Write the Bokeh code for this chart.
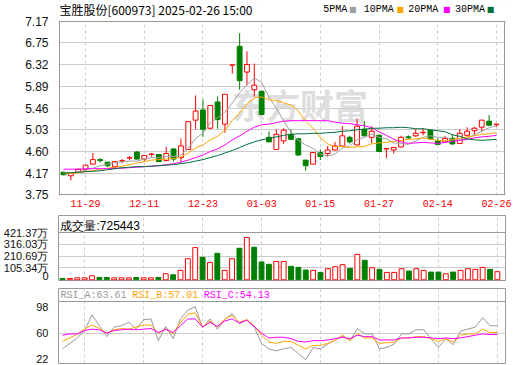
from bokeh.plotting import figure
from bokeh.models import (Range1d, FixedTicker, PrintfTickFormatter, CustomJSTickFormatter,
                          Label, Span, BoxAnnotation)
from bokeh.layouts import column
from bokeh.embed import file_html
from bokeh.resources import INLINE

# ---------------- data ----------------
dates = ["11-26", "11-27", "11-28", "11-29",
         "12-02", "12-03", "12-04", "12-05", "12-06", "12-09", "12-10", "12-11", "12-12", "12-13",
         "12-16", "12-17", "12-18", "12-19", "12-20", "12-23", "12-24", "12-25", "12-26", "12-27",
         "12-30", "12-31", "01-02", "01-03", "01-06", "01-07", "01-08", "01-09", "01-10", "01-13",
         "01-14", "01-15", "01-16", "01-17", "01-20", "01-21", "01-22", "01-23", "01-24", "01-27",
         "02-05", "02-06", "02-07", "02-10", "02-11", "02-12", "02-13", "02-14", "02-17", "02-18",
         "02-19", "02-20", "02-21", "02-24", "02-25", "02-26"]

opens = [4.19, 4.12, 4.19, 4.24, 4.35, 4.44, 4.39, 4.30, 4.41, 4.47,
         4.59, 4.45, 4.54, 4.54, 4.42, 4.65, 4.48, 4.64, 5.22, 5.42,
         5.06, 5.58, 5.14, 6.31, 6.68, 6.17, 5.82, 5.79, 4.88, 4.64,
         4.81, 4.94, 4.85, 4.43, 4.35, 4.58, 4.56, 4.63, 4.71, 4.88,
         4.73, 5.04, 4.88, 4.92, 4.65, 4.63, 4.69, 4.89, 4.91, 4.97,
         5.02, 4.81, 4.79, 4.86, 4.76, 4.92, 5.01, 5.08, 5.20, 5.13]
highs = [4.20, 4.18, 4.26, 4.33, 4.57, 4.47, 4.39, 4.40, 4.45, 4.51,
         4.61, 4.53, 4.57, 4.55, 4.69, 4.67, 4.86, 5.19, 5.71, 5.63,
         5.51, 5.69, 5.73, 6.31, 6.94, 6.58, 6.34, 5.81, 5.00, 5.04,
         5.06, 5.04, 4.87, 4.43, 4.59, 4.64, 4.71, 4.79, 5.10, 4.91,
         5.25, 5.20, 5.10, 4.93, 4.66, 4.68, 4.91, 4.92, 5.04, 5.06,
         5.03, 4.86, 4.91, 4.94, 5.04, 5.08, 5.09, 5.22, 5.32, 5.15]
lows = [4.13, 4.03, 4.18, 4.23, 4.35, 4.38, 4.29, 4.28, 4.37, 4.43,
        4.44, 4.41, 4.50, 4.40, 4.41, 4.40, 4.38, 4.63, 5.04, 4.89,
        5.05, 5.05, 4.97, 6.14, 5.82, 5.91, 5.69, 5.32, 4.79, 4.64,
        4.75, 4.83, 4.52, 4.22, 4.35, 4.43, 4.50, 4.62, 4.70, 4.76,
        4.72, 4.90, 4.76, 4.59, 4.47, 4.56, 4.68, 4.85, 4.89, 4.92,
        4.84, 4.74, 4.77, 4.73, 4.75, 4.89, 4.92, 4.99, 5.10, 5.09]
closes = [4.14, 4.18, 4.25, 4.33, 4.44, 4.42, 4.32, 4.40, 4.42, 4.48,
          4.45, 4.52, 4.55, 4.40, 4.56, 4.45, 4.71, 5.19, 5.40, 5.04,
          5.51, 5.23, 5.73, 6.31, 6.00, 6.32, 5.91, 5.33, 4.79, 4.94,
          5.02, 4.84, 4.53, 4.32, 4.58, 4.50, 4.63, 4.71, 4.91, 4.79,
          5.10, 4.91, 5.00, 4.60, 4.66, 4.68, 4.88, 4.87, 4.96, 4.98,
          4.85, 4.74, 4.86, 4.75, 4.96, 5.00, 5.06, 5.22, 5.12, 5.14]

ma5 = [4.19, 4.18, 4.19, 4.23, 4.27, 4.32, 4.35, 4.38, 4.40, 4.41,
       4.41, 4.45, 4.48, 4.48, 4.50, 4.50, 4.53, 4.66, 4.86, 4.96,
       5.17, 5.27, 5.38, 5.56, 5.76, 5.92, 6.05, 5.97, 5.67, 5.46,
       5.20, 4.98, 4.82, 4.73, 4.66, 4.55, 4.51, 4.55, 4.67, 4.71,
       4.83, 4.88, 4.94, 4.88, 4.85, 4.77, 4.76, 4.74, 4.81, 4.88,
       4.91, 4.88, 4.88, 4.84, 4.83, 4.86, 4.93, 5.00, 5.07, 5.11]
ma10 = [4.16, 4.17, 4.18, 4.20, 4.22, 4.25, 4.27, 4.29, 4.31, 4.34,
        4.37, 4.40, 4.43, 4.44, 4.45, 4.46, 4.49, 4.57, 4.67, 4.73,
        4.83, 4.90, 5.02, 5.21, 5.36, 5.54, 5.66, 5.68, 5.62, 5.61,
        5.56, 5.52, 5.40, 5.20, 5.06, 4.88, 4.75, 4.69, 4.70, 4.68,
        4.69, 4.70, 4.75, 4.77, 4.78, 4.80, 4.82, 4.84, 4.85, 4.87,
        4.84, 4.82, 4.81, 4.83, 4.86, 4.89, 4.91, 4.94, 4.95, 4.97]
ma20 = [4.25, 4.25, 4.25, 4.26, 4.26, 4.26, 4.26, 4.27, 4.27, 4.28,
        4.29, 4.30, 4.31, 4.32, 4.34, 4.36, 4.39, 4.43, 4.48, 4.53,
        4.60, 4.65, 4.73, 4.83, 4.91, 5.00, 5.08, 5.13, 5.14, 5.17,
        5.20, 5.21, 5.21, 5.21, 5.21, 5.21, 5.21, 5.18, 5.16, 5.15,
        5.13, 5.11, 5.07, 4.99, 4.92, 4.84, 4.79, 4.76, 4.77, 4.78,
        4.77, 4.76, 4.78, 4.80, 4.82, 4.84, 4.87, 4.89, 4.90, 4.92]
ma30 = [4.17, 4.18, 4.19, 4.20, 4.21, 4.22, 4.24, 4.26, 4.28, 4.29,
        4.30, 4.30, 4.31, 4.32, 4.33, 4.34, 4.36, 4.38, 4.41, 4.44,
        4.48, 4.52, 4.57, 4.62, 4.68, 4.74, 4.79, 4.83, 4.86, 4.89,
        4.92, 4.94, 4.95, 4.95, 4.96, 4.96, 4.97, 4.98, 5.00, 5.01,
        5.03, 5.04, 5.06, 5.06, 5.07, 5.07, 5.08, 5.07, 5.05, 5.05,
        5.03, 5.01, 4.99, 4.93, 4.90, 4.85, 4.83, 4.82, 4.83, 4.84]

# volume in 万 (10k shares)
volume = [12, 12, 18, 18, 36, 21, 21, 18, 18, 18,
          21, 18, 18, 21, 54, 45, 84, 188, 287, 200,
          155, 236, 84, 188, 281, 377, 290, 159, 138, 164,
          164, 120, 111, 87, 84, 66, 99, 117, 135, 102,
          227, 174, 108, 93, 66, 66, 99, 78, 99, 84,
          69, 69, 54, 69, 84, 99, 93, 111, 93, 72.5443]

rsi_a = [37, 45, 53, 64, 87, 71, 55, 69, 71, 76,
         66, 80, 81, 49, 70, 52, 81, 94, 99, 68,
         81, 66, 80, 89, 74, 80, 69, 45, 37, 34,
         37, 39, 30, 21, 39, 37, 44, 50, 56, 49,
         67, 59, 59, 37, 39, 44, 59, 59, 65, 65,
         52, 39, 52, 43, 63, 66, 69, 83, 71, 71]
rsi_b = [48, 53, 59, 66, 72, 67, 60, 65, 67, 66,
         69, 72, 72, 60, 66, 59, 76, 88, 90, 69,
         78, 69, 81, 86, 76, 80, 71, 57, 47, 45,
         48, 48, 42, 37, 42, 42, 45, 50, 57, 49,
         59, 53, 53, 45, 46, 47, 53, 53, 55, 55,
         52, 48, 52, 47, 57, 59, 59, 66, 61, 61]
rsi_c = [57, 59, 59, 64, 66, 65, 60, 64, 65, 66,
         65, 66, 67, 61, 66, 61, 71, 81, 81, 69,
         76, 70, 78, 81, 75, 79, 70, 60, 53, 54,
         54, 52, 48, 47, 49, 49, 50, 52, 54, 52,
         57, 55, 55, 50, 50, 50, 53, 53, 54, 54,
         53, 52, 53, 52, 53, 55, 57, 59, 58, 58]

title_text = "宝胜股份[600973] 2025-02-26 15:00"
ma_names = ["5PMA", "10PMA", "20PMA", "30PMA"]
vol_header = "成交量:725443"
rsi_headers = ["RSI_A:63.61", "RSI_B:57.01", "RSI_C:54.13"]
watermark = "东方财富"
price_ticks = [3.75, 4.17, 4.60, 5.03, 5.46, 5.89, 6.32, 6.75, 7.17]
vol_ticks = [0, 105.34, 210.69, 316.03, 421.37]
rsi_ticks = [22, 60, 98]
date_tick_idx = [3, 11, 19, 27, 35, 43, 51, 59]

# ---------------- styles / layout ----------------
RED = "#ff0000"
GREEN = "#008000"
MA_COLORS = ["#a0a0a0", "#ffa500", "#ff00ff", "#00703c"]
RSI_COLORS = ["#999999", "#ffa500", "#ff00ff"]
GRID = "#cccccc"
BORDER = "#999999"
W = 520
LEFT, RIGHT = 56, 15
FW = W - LEFT - RIGHT
X0, X1 = -0.55, 60.1
XPP = (X1 - X0) / FW          # data units per pixel along x
xr = Range1d(X0, X1)

N = len(closes)
idx = list(range(N))
up = [c >= o for o, c in zip(opens, closes)]
ccol = [RED if u else GREEN for u in up]
cfill = ["white" if u else GREEN for u in up]
btop = [max(o, c) for o, c in zip(opens, closes)]
bbot = [min(o, c) for o, c in zip(opens, closes)]
vup = [up[0]] + [closes[i] >= closes[i - 1] for i in range(1, N)]
vcol = [RED if u else GREEN for u in vup]
vfill = ["white" if u else GREEN for u in vup]


def fx(px):
    return X0 + (px - LEFT) * XPP


def style_fig(p, left, right, top, bottom):
    p.min_border_left = left
    p.min_border_right = right
    p.min_border_top = top
    p.min_border_bottom = bottom
    p.background_fill_color = "white"
    p.border_fill_color = "white"
    ax = p.yaxis[0]
    ax.axis_line_color = None
    ax.major_tick_line_color = None
    ax.minor_tick_line_color = None
    ax.major_label_standoff = 4
    ax.major_label_text_font = "Liberation Sans"
    ax.major_label_text_font_size = "12px"
    ax.major_label_text_color = "#111111"
    p.xgrid.ticker = FixedTicker(ticks=date_tick_idx)
    p.xgrid.grid_line_color = GRID
    p.xgrid.grid_line_dash = "3 3"
    p.ygrid.grid_line_color = GRID


# ---------------- main price panel (frame also holds the header strip) ----------------
P_LO, P_HI = 3.75, 7.17
PTOP, PBOT = 21, 194                      # page y of the price box
YPP = (P_HI - P_LO) / (PBOT - PTOP)       # price per pixel
H1 = 212
p1_y = Range1d(P_LO - 1 * YPP, P_HI + PTOP * YPP)
p1_x = Range1d(X0 - XPP, X1 + XPP)
p1 = figure(width=W, height=H1, x_range=p1_x, y_range=p1_y, tools="",
            toolbar_location=None, output_backend="svg")
style_fig(p1, LEFT - 1, RIGHT - 1, 0, H1 - (PBOT + 1))
p1.outline_line_color = None


def fy1(py):
    return P_HI - (py - PTOP) * YPP


p1.yaxis.ticker = FixedTicker(ticks=price_ticks)
p1.yaxis.formatter = PrintfTickFormatter(format="%.2f")
p1.ygrid.ticker = FixedTicker(ticks=price_ticks)
xa = p1.xaxis[0]
xa.ticker = FixedTicker(ticks=date_tick_idx)
xa.formatter = CustomJSTickFormatter(args=dict(d=dates), code="return d[tick] || '';")
xa.axis_line_color = None
xa.major_tick_line_color = None
xa.minor_tick_line_color = None
xa.major_tick_out = 0
xa.major_label_standoff = 4
xa.major_label_text_color = RED
xa.major_label_text_font = "Liberation Mono"
xa.major_label_text_font_size = "10px"

p1.add_layout(Label(x=fx(230), y=fy1(104), text=watermark, text_font="Noto Sans CJK SC",
                    text_font_size="34px", text_font_style="bold", text_color="#dedede",
                    text_baseline="middle", level="underlay"))

p1.segment(x0=idx, y0=lows, x1=idx, y1=highs, line_color=ccol, line_width=1)
p1.vbar(x=idx, top=btop, bottom=bbot, width=0.66, fill_color=cfill, line_color=ccol,
        line_width=1)
for ma, col in zip([ma5, ma10, ma20, ma30], MA_COLORS):
    p1.line(idx, ma, line_color=col, line_width=1)

# box border of the price area
for loc in (P_LO, P_HI):
    p1.add_layout(Span(location=loc, dimension="width", line_color=BORDER, line_width=1))
for loc in (X0, X1):
    p1.add_layout(Span(location=loc, dimension="height", line_color=BORDER, line_width=1))
# blank header strip above the box
p1.add_layout(BoxAnnotation(bottom=P_HI + 0.6 * YPP, fill_color="white", fill_alpha=1,
                            line_color=None, level="annotation"))

p1.add_layout(Label(x=fx(56), y=fy1(9), text=title_text, text_font="Noto Sans CJK SC",
                    text_font_size="12px", text_color="#000000", text_baseline="middle"))
leg_text_px = [322, 363, 408, 455]
leg_box_px = [348, 396, 443, 487]
for name, col, tx, bx in zip(ma_names, MA_COLORS, leg_text_px, leg_box_px):
    p1.add_layout(Label(x=fx(tx), y=fy1(9), text=name, text_font="Liberation Mono",
                        text_font_size="10px", text_color="#000000", text_baseline="middle"))
    p1.add_layout(Label(x=fx(bx), y=fy1(9), text="■", text_font="DejaVu Sans",
                        text_font_size="8px", text_color=col, text_baseline="middle"))

# ---------------- volume panel ----------------
H2, T2, B2 = 69, 3, 1
FH2 = H2 - T2 - B2
V_LO = -6.0
V_HI = vol_ticks[-1] + (232 - 215) * (vol_ticks[-1] - V_LO) / (280 - 232)


def fy2(py):
    return V_LO + (280 - py) * (V_HI - V_LO) / FH2


p2 = figure(width=W, height=H2, x_range=xr, y_range=Range1d(V_LO, V_HI), tools="",
            toolbar_location=None, output_backend="svg", x_axis_location=None)
style_fig(p2, LEFT, RIGHT, T2, B2)
p2.outline_line_color = BORDER
p2.yaxis.ticker = FixedTicker(ticks=vol_ticks)
p2.yaxis.formatter = CustomJSTickFormatter(
    code="return tick == 0 ? '0' : tick.toFixed(2) + '万';")
p2.yaxis.major_label_text_font_size = "11px"
p2.ygrid.ticker = FixedTicker(ticks=vol_ticks[1:-1])
p2.add_layout(Span(location=vol_ticks[-1], dimension="width", line_color=BORDER,
                   line_width=1))
p2.vbar(x=idx, top=volume, bottom=0, width=0.66, fill_color=vfill, line_color=vcol,
        line_width=1)
p2.add_layout(Label(x=fx(58), y=fy2(225), text=vol_header, text_font="Liberation Sans",
                    text_font_size="12px", text_color="#000000", text_baseline="middle"))

# ---------------- RSI panel ----------------
H3, T3, B3 = 84, 7, 2
FH3 = H3 - T3 - B3
R_LO = 60 - (363 - 332.7) / 0.679
R_HI = 60 + (332.7 - 288) / 0.679


def fy3(py):
    return R_LO + (363 - py) * (R_HI - R_LO) / FH3


p3 = figure(width=W, height=H3, x_range=xr, y_range=Range1d(R_LO, R_HI), tools="",
            toolbar_location=None, output_backend="svg", x_axis_location=None)
style_fig(p3, LEFT, RIGHT, T3, B3)
p3.outline_line_color = BORDER
p3.yaxis.ticker = FixedTicker(ticks=rsi_ticks)
p3.yaxis.major_label_text_font_size = "11px"
p3.ygrid.ticker = FixedTicker(ticks=[rsi_ticks[1]])
p3.add_layout(Span(location=fy3(301), dimension="width", line_color=BORDER, line_width=1))
for r, col in zip([rsi_a, rsi_b, rsi_c], RSI_COLORS):
    p3.line(idx, r, line_color=col, line_width=1)
for txt, col, px in zip(rsi_headers, RSI_COLORS, [58, 130, 202]):
    p3.add_layout(Label(x=fx(px), y=fy3(295), text=txt, text_font="Liberation Mono",
                        text_font_size="10px", text_color=col, text_baseline="middle"))

layout = column(p1, p2, p3, spacing=0)
open("out.html", "w").write(file_html(layout, INLINE))
